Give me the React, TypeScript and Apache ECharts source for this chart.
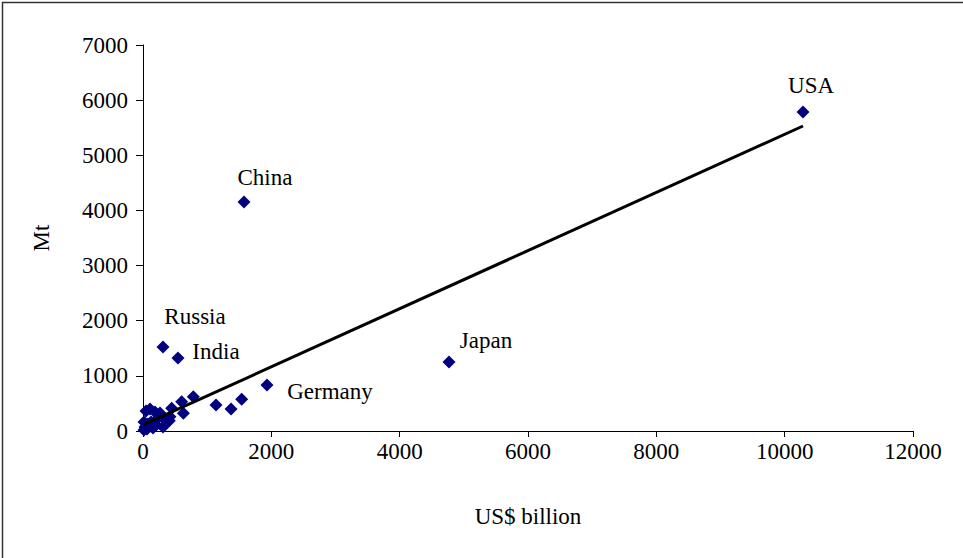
import React, { useEffect, useRef } from "react";
import * as echarts from "echarts";

// Labelled countries
const labelNames = ["USA", "China", "Japan", "Germany", "Russia", "India"];
const labelGdp = [10286, 1574, 4769, 1932, 312, 545];
const labelCo2 = [5785, 4153, 1251, 834, 1523, 1324];

// Other countries (unlabelled)
const otherGdp = [784, 603, 447, 629, 1138, 1372, 1538, 410, 31, 78, 125, 47, 109, 187, 265, 234, 312, 203, 358, 16, 62, 156, 109, 16, 420];
const otherCo2 = [622, 532, 411, 321, 471, 399, 575, 187, 72, 127, 163, 363, 399, 344, 326, 236, 72, 109, 181, 18, 36, 54, 90, 163, 260];

// Trend line endpoints
const trendGdp = [0, 10286];
const trendCo2 = [109, 5531];

const xTicks = { min: 0, max: 12000, interval: 2000 };
const yTicks = { min: 0, max: 7000, interval: 1000 };

const labelOffsets: Record<string, [number, number]> = {
  USA: [8, -26],
  China: [21, -24],
  Japan: [37, -22],
  Germany: [63, 6],
  Russia: [32, -31],
  India: [38, -6],
};

const FONT = "'Liberation Serif', 'Times New Roman', serif";
const FS = 23;

export default function App() {
  const ref = useRef<HTMLDivElement>(null);
  useEffect(() => {
    document.body.style.margin = "0";
    if (!ref.current) return;
    const chart = echarts.init(ref.current, undefined, { renderer: "svg" });
    const labelled = labelNames.map((n, i) => ({
      name: n,
      value: [labelGdp[i], labelCo2[i]],
      label: {
        show: true,
        formatter: n,
        position: "inside",
        offset: labelOffsets[n],
        color: "#000",
        fontFamily: FONT,
        fontSize: FS,
      },
    }));
    const others = otherGdp.map((g, i) => [g, otherCo2[i]]);
    const plain = (v: number) => String(v);
    chart.setOption({
      animation: false,
      backgroundColor: "#fff",
      grid: { left: 143, top: 45, right: 50, bottom: 127, containLabel: false },
      graphic: [
        {
          type: "rect",
          shape: { x: 2.5, y: 2.5, width: 1000, height: 600 },
          style: { fill: "none", stroke: "#333", lineWidth: 1.5 },
          silent: true,
        },
      ],
      xAxis: {
        type: "value",
        ...xTicks,
        name: "US$ billion",
        nameLocation: "middle",
        nameGap: 74,
        nameTextStyle: { color: "#000", fontFamily: FONT, fontSize: FS },
        axisLine: { show: true, lineStyle: { color: "#000", width: 1 } },
        axisTick: { show: true, length: 6, lineStyle: { color: "#000" } },
        axisLabel: { color: "#000", fontFamily: FONT, fontSize: FS, margin: 9, formatter: plain },
        splitLine: { show: false },
      },
      yAxis: {
        type: "value",
        ...yTicks,
        name: "Mt",
        nameLocation: "middle",
        nameGap: 90,
        nameRotate: 90,
        nameTextStyle: { color: "#000", fontFamily: FONT, fontSize: FS },
        axisLine: { show: true, lineStyle: { color: "#000", width: 1 } },
        axisTick: { show: true, length: 7, lineStyle: { color: "#000" } },
        axisLabel: { color: "#000", fontFamily: FONT, fontSize: FS, margin: 15, formatter: plain },
        splitLine: { show: false },
      },
      series: [
        {
          type: "scatter",
          symbol: "diamond",
          symbolSize: 13,
          itemStyle: { color: "#000080", opacity: 1 },
          data: others,
          z: 2,
        },
        {
          type: "scatter",
          symbol: "diamond",
          symbolSize: 13,
          itemStyle: { color: "#000080", opacity: 1 },
          data: labelled,
          z: 2,
        },
        {
          type: "line",
          data: trendGdp.map((g, i) => [g, trendCo2[i]]),
          showSymbol: false,
          symbol: "none",
          lineStyle: { color: "#000", width: 3 },
          z: 3,
        },
      ],
    });
    return () => chart.dispose();
  }, []);
  return <div ref={ref} style={{ width: 963, height: 558 }} />;
}
